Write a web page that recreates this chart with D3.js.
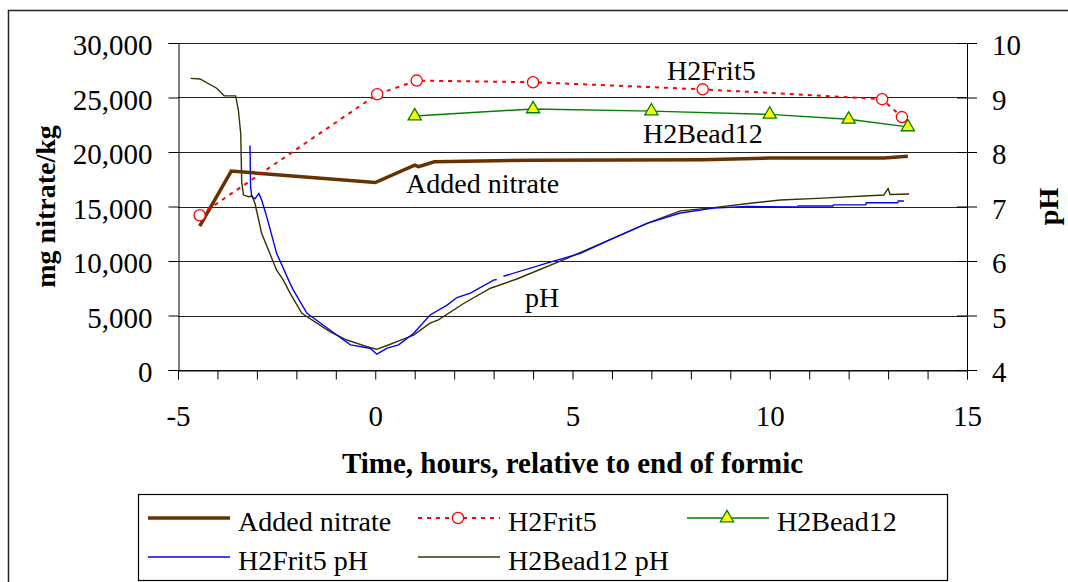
<!DOCTYPE html>
<html>
<head>
<meta charset="utf-8">
<script src="https://cdn.jsdelivr.net/npm/d3@7"></script>
<style>
  html, body { margin: 0; padding: 0; background: #fff; }
  svg { display: block; }
  text { font-family: "Liberation Serif", "Times New Roman", serif; fill: #000; }
</style>
</head>
<body>
<svg id="chart" width="1068" height="582"></svg>
<script>
// ---------------- DATA ----------------
const xTickValues = [-5, 0, 5, 10, 15];
const yLeftTicks = [0, 5000, 10000, 15000, 20000, 25000, 30000];
const yRightTicks = [4, 5, 6, 7, 8, 9, 10];

// Added nitrate (mg nitrate/kg)
const addedHours   = [-4.45, -3.65, 0, 1.0, 1.1, 1.5, 4, 8.3, 10, 12.9, 13.5];
const addedNitrate = [13200, 18250, 17200, 18800, 18650, 19100, 19250, 19300, 19450, 19450, 19600];

// H2Frit5 measured nitrate
const frit5Hours   = [-4.45, 0.05, 1.05, 4.0, 8.3, 12.85, 13.35];
const frit5Nitrate = [14200, 25300, 26550, 26400, 25750, 24850, 23200];

// H2Bead12 measured nitrate
const bead12Hours   = [1.0, 4.0, 7.0, 10.0, 12.0, 13.5];
const bead12Nitrate = [23300, 23950, 23750, 23450, 23000, 22300];

// H2Frit5 pH  [hour, pH]  (null = gap in record)
const frit5Ph = [
  [-3.175, 8.12], [-3.16, 7.36], [-3.13, 7.18], [-3.05, 7.14], [-2.95, 7.24], [-2.88, 7.12],
  [-2.75, 6.81], [-2.5, 6.14], [-2.16, 5.59], [-2.08, 5.47], [-1.73, 5.04], [-1.14, 4.73],
  [-0.63, 4.46], [-0.13, 4.40], [0.04, 4.29], [0.3, 4.40], [0.59, 4.46], [0.97, 4.67],
  [1.39, 5.01], [1.82, 5.19], [2.07, 5.33], [2.41, 5.41], [3.0, 5.65], [3.08, 5.66],
  [3.15, null],
  [3.25, 5.72], [4.35, 5.96], [5.2, 6.14], [6.04, 6.42], [6.89, 6.69], [7.73, 6.88],
  [8.58, 6.97], [9.42, 7.0], [10.7, 6.99], [10.72, 7.01], [11.6, 7.01], [11.62, 7.03],
  [12.43, 7.03], [12.45, 7.07], [13.24, 7.07], [13.26, 7.1], [13.4, 7.1]
];

// H2Bead12 pH  [hour, pH]
const bead12Ph = [
  [-4.68, 9.35], [-4.44, 9.34], [-4.02, 9.17], [-3.83, 9.03], [-3.54, 9.03], [-3.47, 8.77],
  [-3.41, 8.34], [-3.385, 7.45], [-3.34, 7.21], [-3.21, 7.18], [-3.12, 7.19], [-3.05, 7.06],
  [-2.88, 6.51], [-2.5, 5.83], [-2.33, 5.65], [-2.16, 5.41], [-1.86, 5.04], [-1.14, 4.70],
  [-0.72, 4.55], [-0.21, 4.43], [0.03, 4.38], [0.3, 4.45], [0.55, 4.52], [0.97, 4.64],
  [1.39, 4.86], [1.6, 4.92], [2.24, 5.22], [2.92, 5.5], [3.59, 5.67], [4.86, 6.05],
  [6.04, 6.42], [6.89, 6.69], [7.73, 6.92], [8.58, 6.98], [9.51, 7.06], [10.27, 7.12],
  [11.2, 7.15], [12.89, 7.21], [13.0, 7.33], [13.05, 7.22], [13.53, 7.23]
];

// ---------------- LAYOUT ----------------
const svg = d3.select("#chart");
const L = 178, R = 967, T = 43, B = 370;

const x  = d3.scaleLinear().domain([-5, 15]).range([L, R]);
const yL = d3.scaleLinear().domain([0, 30000]).range([B, T]);
const yR = d3.scaleLinear().domain([4, 10]).range([B, T]);

const COL = {
  added: "#663300", frit: "#ff0000", bead: "#008000", tri: "#ffff00",
  bluePh: "#0000ff", olivePh: "#333300"
};
const SERIF = "'Liberation Serif', 'Times New Roman', serif";

// outer chart border
svg.append("rect").attr("x", 8.5).attr("y", 10.5).attr("width", 1100).attr("height", 600)
  .attr("fill", "none").attr("stroke", "#222").attr("stroke-width", 1.5);

// gridlines
svg.append("g").selectAll("line").data(yLeftTicks).join("line")
  .attr("x1", L).attr("x2", R)
  .attr("y1", d => Math.round(yL(d)) + 0.5).attr("y2", d => Math.round(yL(d)) + 0.5)
  .attr("stroke", "#222").attr("stroke-width", 1);

// left axis
const gL = svg.append("g").attr("transform", `translate(${L + 0.5},0)`)
  .call(d3.axisLeft(yL).tickValues(yLeftTicks).tickSize(10).tickFormat(d3.format(",")));
gL.attr("font-family", null);
gL.select(".domain").attr("stroke", "#000");
gL.selectAll(".tick line").attr("stroke", "#000");
gL.selectAll("text").attr("x", -26).attr("dy", "0.4em")
  .style("font-family", SERIF).style("font-size", "29px");

// right axis (cross ticks)
const gR = svg.append("g").attr("transform", `translate(${R - 10},0)`)
  .call(d3.axisRight(yR).tickValues(yRightTicks).tickSizeInner(20).tickSizeOuter(0)
    .tickFormat(d3.format("d")));
gR.attr("font-family", null);
gR.select(".domain").remove();
gR.selectAll(".tick line").attr("stroke", "#000");
gR.selectAll("text").attr("x", 35).attr("dy", "0.4em")
  .style("font-family", SERIF).style("font-size", "29px");
svg.append("line").attr("x1", R + 0.5).attr("x2", R + 0.5).attr("y1", T).attr("y2", B + 8)
  .attr("stroke", "#000");

// bottom axis
const gB = svg.append("g").attr("transform", `translate(0,${B + 0.5})`)
  .call(d3.axisBottom(x).tickValues(d3.range(-5, 16, 1)).tickSize(9)
    .tickFormat(d => xTickValues.includes(d) ? String(d) : ""));
gB.attr("font-family", null);
gB.select(".domain").attr("stroke", "#000");
gB.selectAll(".tick line").attr("stroke", "#000");
gB.selectAll("text").attr("y", 55).attr("dy", 0)
  .style("font-family", SERIF).style("font-size", "29px");

// axis titles
svg.append("text").attr("x", (L + R) / 2).attr("y", 473).attr("text-anchor", "middle")
  .style("font-size", "29px").style("font-weight", "bold")
  .text("Time, hours, relative to end of formic");
svg.append("text").attr("transform", `translate(55,${(T + B) / 2}) rotate(-90)`)
  .attr("text-anchor", "middle").style("font-size", "28px").style("font-weight", "bold")
  .text("mg nitrate/kg");
svg.append("text").attr("transform", `translate(1058,${(T + B) / 2}) rotate(-90)`)
  .attr("text-anchor", "middle").style("font-size", "28px").style("font-weight", "bold")
  .text("pH");

// ---------------- SERIES ----------------
const plot = svg.append("g");

const phLine = d3.line().defined(d => d[1] !== null).x(d => x(d[0])).y(d => yR(d[1]));
plot.append("path").datum(bead12Ph).attr("d", phLine)
  .attr("fill", "none").attr("stroke", COL.olivePh).attr("stroke-width", 1.4);
plot.append("path").datum(frit5Ph).attr("d", phLine)
  .attr("fill", "none").attr("stroke", COL.bluePh).attr("stroke-width", 1.4);

const nLine = d3.line().x(d => x(d[0])).y(d => yL(d[1]));
const added = addedHours.map((h, i) => [h, addedNitrate[i]]);
const frit5 = frit5Hours.map((h, i) => [h, frit5Nitrate[i]]);
const bead12 = bead12Hours.map((h, i) => [h, bead12Nitrate[i]]);

plot.append("path").datum(added).attr("d", nLine)
  .attr("fill", "none").attr("stroke", COL.added).attr("stroke-width", 3.5);

plot.append("path").datum(bead12).attr("d", nLine)
  .attr("fill", "none").attr("stroke", COL.bead).attr("stroke-width", 1.4);
plot.append("path").datum(frit5).attr("d", nLine)
  .attr("fill", "none").attr("stroke", COL.frit).attr("stroke-width", 2)
  .attr("stroke-dasharray", "4,5");

const tri = d3.symbol().type(d3.symbolTriangle).size(75);
plot.selectAll(".tri").data(bead12).join("path")
  .attr("transform", d => `translate(${x(d[0])},${yL(d[1])})`)
  .attr("d", tri).attr("fill", COL.tri).attr("stroke", COL.bead).attr("stroke-width", 1.3);
plot.selectAll(".circ").data(frit5).join("circle")
  .attr("cx", d => x(d[0])).attr("cy", d => yL(d[1])).attr("r", 5.6)
  .attr("fill", "#fff").attr("stroke", COL.frit).attr("stroke-width", 1.3);

// annotations
const ann = [
  { t: "H2Frit5", x: 667, y: 80 },
  { t: "H2Bead12", x: 643, y: 143 },
  { t: "Added nitrate", x: 406, y: 193 },
  { t: "pH", x: 525, y: 307 }
];
svg.append("g").selectAll("text").data(ann).join("text")
  .attr("x", d => d.x).attr("y", d => d.y).style("font-size", "28px").text(d => d.t);

// ---------------- LEGEND ----------------
const lg = svg.append("g");
lg.append("rect").attr("x", 138.5).attr("y", 494.5).attr("width", 809).attr("height", 86)
  .attr("fill", "#fff").attr("stroke", "#000").attr("stroke-width", 1.2);

const legendItems = [
  { label: "Added nitrate", col: 0, row: 0, stroke: COL.added, w: 3.5 },
  { label: "H2Frit5", col: 1, row: 0, stroke: COL.frit, w: 2, dash: "4,5", marker: "circle" },
  { label: "H2Bead12", col: 2, row: 0, stroke: COL.bead, w: 1.4, marker: "tri" },
  { label: "H2Frit5 pH", col: 0, row: 1, stroke: COL.bluePh, w: 1.4 },
  { label: "H2Bead12 pH", col: 1, row: 1, stroke: COL.olivePh, w: 1.4 }
];
const colX = [148, 418, 687];
const rowY = [518, 557];
legendItems.forEach(it => {
  const x0 = colX[it.col], y0 = rowY[it.row];
  const ln = lg.append("line").attr("x1", x0).attr("x2", x0 + 82).attr("y1", y0).attr("y2", y0)
    .attr("stroke", it.stroke).attr("stroke-width", it.w);
  if (it.dash) ln.attr("stroke-dasharray", it.dash);
  if (it.marker === "circle") {
    lg.append("circle").attr("cx", x0 + 40).attr("cy", y0).attr("r", 5.6)
      .attr("fill", "#fff").attr("stroke", COL.frit).attr("stroke-width", 1.3);
  } else if (it.marker === "tri") {
    lg.append("path").attr("transform", `translate(${x0 + 40},${y0})`).attr("d", tri)
      .attr("fill", COL.tri).attr("stroke", COL.bead).attr("stroke-width", 1.3);
  }
  lg.append("text").attr("x", x0 + 90).attr("y", y0 + 13).style("font-size", "28px").text(it.label);
});
</script>
</body>
</html>
